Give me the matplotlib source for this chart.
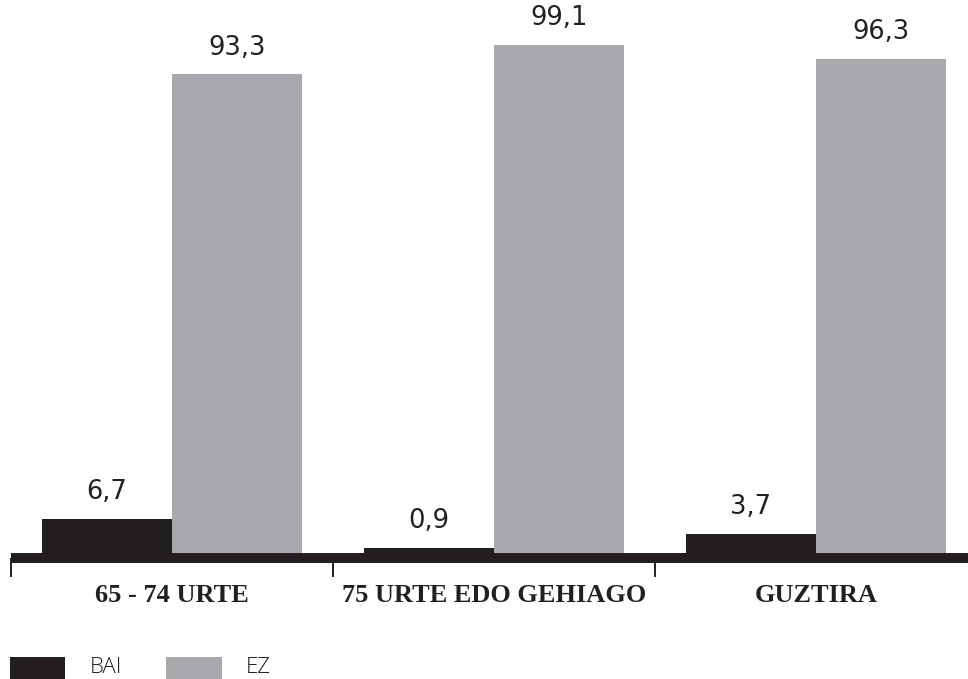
import matplotlib
matplotlib.use("Agg")
import matplotlib.pyplot as plt
from matplotlib.patches import Rectangle
import numpy as np

categories = ["65 - 74 URTE", "75 URTE EDO GEHIAGO", "GUZTIRA"]
series_names = ["BAI", "EZ"]
bai = [6.7, 0.9, 3.7]
ez = [93.3, 99.1, 96.3]

DARK = "#231f20"
GREY = "#a7a9ac"

W, H = 968, 679
fig = plt.figure(figsize=(W / 100, H / 100), dpi=100)
ax = fig.add_axes([11 / W, 126 / H, 957 / W, 538.6 / H])

x = np.arange(len(categories))
bw = 130 / 322
b1 = ax.bar(x - bw / 2, bai, width=bw, color=DARK, linewidth=0)
b2 = ax.bar(x + bw / 2, ez, width=bw, color=GREY, linewidth=0)

fmt = lambda v: f"{v:.1f}".replace(".", ",")
for cont, vals in ((b1, bai), (b2, ez)):
    ax.bar_label(cont, labels=[fmt(v) for v in vals], padding=10,
                 fontsize=18.5, color=DARK, family="DejaVu Sans")

for s in ("top", "right", "left"):
    ax.spines[s].set_visible(False)
ax.spines["bottom"].set_linewidth(7.2)
ax.spines["bottom"].set_color(DARK)
ax.spines["bottom"].set_position(("outward", 3.6))
ax.spines["bottom"].set_capstyle("butt")

ax.set_yticks([])
ax.set_xticks([-0.5, 0.5, 1.5, 2.5])
ax.set_xticklabels([])
ax.tick_params(axis="x", which="major", direction="out", length=13.7,
               width=1.4, color=DARK)
ax.set_xticks(x, minor=True)
ax.set_xticklabels(categories, minor=True, fontsize=19, fontweight="bold",
                   family="Liberation Serif", color=DARK)
ax.tick_params(axis="x", which="minor", length=0, pad=19)

ax.set_xlim(-0.5, -0.5 + 957 / 322)
ax.set_ylim(0, 105)

# legend (manual, as in the reference)
fig.add_artist(Rectangle((10 / W, -0.05), 55 / W, (H - 657) / H + 0.05,
                         transform=fig.transFigure, color=DARK, linewidth=0))
fig.add_artist(Rectangle((166 / W, -0.05), 56 / W, (H - 657) / H + 0.05,
                         transform=fig.transFigure, color=GREY, linewidth=0))
fig.text(90 / W, 6 / H, series_names[0], fontsize=16, color=DARK,
         family="Open Sans", fontweight="light", va="baseline", ha="left")
fig.text(246 / W, 6 / H, series_names[1], fontsize=16, color=DARK,
         family="Open Sans", fontweight="light", va="baseline", ha="left")

fig.savefig("out.png", dpi=100)
